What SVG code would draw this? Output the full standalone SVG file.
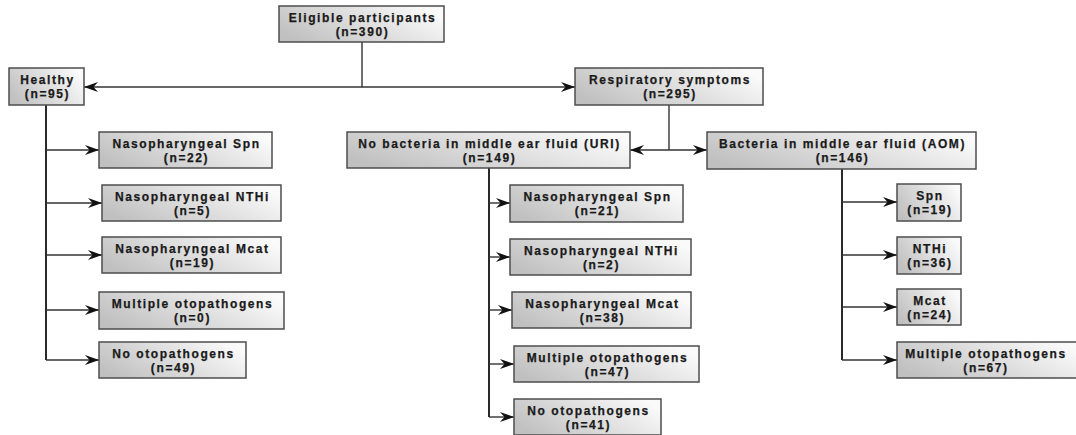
<svg xmlns="http://www.w3.org/2000/svg" width="1076" height="435" viewBox="0 0 1076 435">
<defs>
<linearGradient id="g" x1="0" y1="0.7" x2="1" y2="0.3">
<stop offset="0" stop-color="#c0c0c0"/>
<stop offset="1" stop-color="#fafafa"/>
</linearGradient>
<marker id="ah" markerUnits="userSpaceOnUse" markerWidth="15" markerHeight="11" refX="14" refY="5.5" orient="auto-start-reverse">
<path d="M0,0.5 L14,5.5 L0,10.5 L4.5,5.5 z" fill="#111"/>
</marker>
<style>
.box{fill:url(#g);stroke:#4d4d4d;stroke-width:1.5}
.t{font-family:"Liberation Sans",Arial,sans-serif;font-weight:bold;font-size:12px;letter-spacing:1.6px;fill:#1a1a1a;stroke:#1a1a1a;stroke-width:0.25;text-anchor:middle}
.c{fill:none;stroke:#333;stroke-width:1.4}
.tr{fill:none;stroke:#2a2a2a;stroke-width:2}
.a{fill:none;stroke:#333;stroke-width:1.4;marker-end:url(#ah)}
.b{fill:none;stroke:#333;stroke-width:1.4;marker-start:url(#ah);marker-end:url(#ah)}
</style>
</defs>
<rect width="1076" height="435" fill="#fff"/>
<g id="connectors">
<path class="c" d="M362,42 V87"/>
<path class="b" d="M84,87 H575"/>
<path class="c" d="M669,105 V150"/>
<path class="b" d="M630,150 H707"/>
<path class="tr" d="M46,105 V360"/>
<path class="a" d="M46,150 H99"/>
<path class="a" d="M46,203 H102"/>
<path class="a" d="M46,255 H102"/>
<path class="a" d="M46,310 H99"/>
<path class="a" d="M46,360 H99"/>
<path class="tr" d="M489,168 V417"/>
<path class="a" d="M489,203 H510"/>
<path class="a" d="M489,257 H510"/>
<path class="a" d="M489,310 H512"/>
<path class="a" d="M489,364 H514"/>
<path class="a" d="M489,417 H514"/>
<path class="tr" d="M842,169 V360"/>
<path class="a" d="M842,202 H897"/>
<path class="a" d="M842,255 H897"/>
<path class="a" d="M842,307 H897"/>
<path class="a" d="M842,360 H897"/>
</g>
<g id="eligible"><rect class="box" x="279" y="6" width="165" height="36"/><text class="t" x="362.5" y="22">Eligible participants</text><text class="t" x="362.5" y="36">(n=390)</text></g>
<g id="healthy"><rect class="box" x="9" y="68" width="75" height="37"/><text class="t" x="47.5" y="84">Healthy</text><text class="t" x="47.5" y="98">(n=95)</text></g>
<g id="respiratory"><rect class="box" x="575" y="68" width="188" height="37"/><text class="t" x="670" y="84">Respiratory symptoms</text><text class="t" x="670" y="98">(n=295)</text></g>
<g id="h-spn"><rect class="box" x="99" y="132" width="173" height="36"/><text class="t" x="186.5" y="148">Nasopharyngeal Spn</text><text class="t" x="186.5" y="162">(n=22)</text></g>
<g id="h-nthi"><rect class="box" x="102" y="185" width="179" height="36"/><text class="t" x="192.5" y="201">Nasopharyngeal NTHi</text><text class="t" x="192.5" y="215">(n=5)</text></g>
<g id="h-mcat"><rect class="box" x="102" y="237" width="179" height="36"/><text class="t" x="192.5" y="253">Nasopharyngeal Mcat</text><text class="t" x="192.5" y="267">(n=19)</text></g>
<g id="h-multi"><rect class="box" x="99" y="292" width="185" height="37"/><text class="t" x="192.5" y="308">Multiple otopathogens</text><text class="t" x="192.5" y="322">(n=0)</text></g>
<g id="h-none"><rect class="box" x="99" y="342" width="147" height="36"/><text class="t" x="173.5" y="358">No otopathogens</text><text class="t" x="173.5" y="372">(n=49)</text></g>
<g id="uri"><rect class="box" x="347" y="132" width="283" height="36"/><text class="t" x="489.5" y="148">No bacteria in middle ear fluid (URI)</text><text class="t" x="489.5" y="162">(n=149)</text></g>
<g id="aom"><rect class="box" x="707" y="132" width="269" height="37"/><text class="t" x="842.5" y="148">Bacteria in middle ear fluid (AOM)</text><text class="t" x="842.5" y="162">(n=146)</text></g>
<g id="u-spn"><rect class="box" x="510" y="185" width="173" height="37"/><text class="t" x="597.5" y="201">Nasopharyngeal Spn</text><text class="t" x="597.5" y="215">(n=21)</text></g>
<g id="u-nthi"><rect class="box" x="510" y="239" width="181" height="36"/><text class="t" x="601.5" y="255">Nasopharyngeal NTHi</text><text class="t" x="601.5" y="269">(n=2)</text></g>
<g id="u-mcat"><rect class="box" x="512" y="292" width="179" height="36"/><text class="t" x="602.5" y="308">Nasopharyngeal Mcat</text><text class="t" x="602.5" y="322">(n=38)</text></g>
<g id="u-multi"><rect class="box" x="514" y="346" width="185" height="36"/><text class="t" x="607.5" y="362">Multiple otopathogens</text><text class="t" x="607.5" y="376">(n=47)</text></g>
<g id="u-none"><rect class="box" x="514" y="399" width="147" height="36"/><text class="t" x="588.5" y="415">No otopathogens</text><text class="t" x="588.5" y="429">(n=41)</text></g>
<g id="a-spn"><rect class="box" x="897" y="184" width="64" height="37"/><text class="t" x="930" y="200">Spn</text><text class="t" x="930" y="214">(n=19)</text></g>
<g id="a-nthi"><rect class="box" x="897" y="237" width="64" height="37"/><text class="t" x="930" y="253">NTHi</text><text class="t" x="930" y="267">(n=36)</text></g>
<g id="a-mcat"><rect class="box" x="897" y="289" width="64" height="36"/><text class="t" x="930" y="305">Mcat</text><text class="t" x="930" y="319">(n=24)</text></g>
<g id="a-multi"><rect class="box" x="897" y="342" width="185" height="36"/><text class="t" x="986" y="358">Multiple otopathogens</text><text class="t" x="986" y="372">(n=67)</text></g>
</svg>
